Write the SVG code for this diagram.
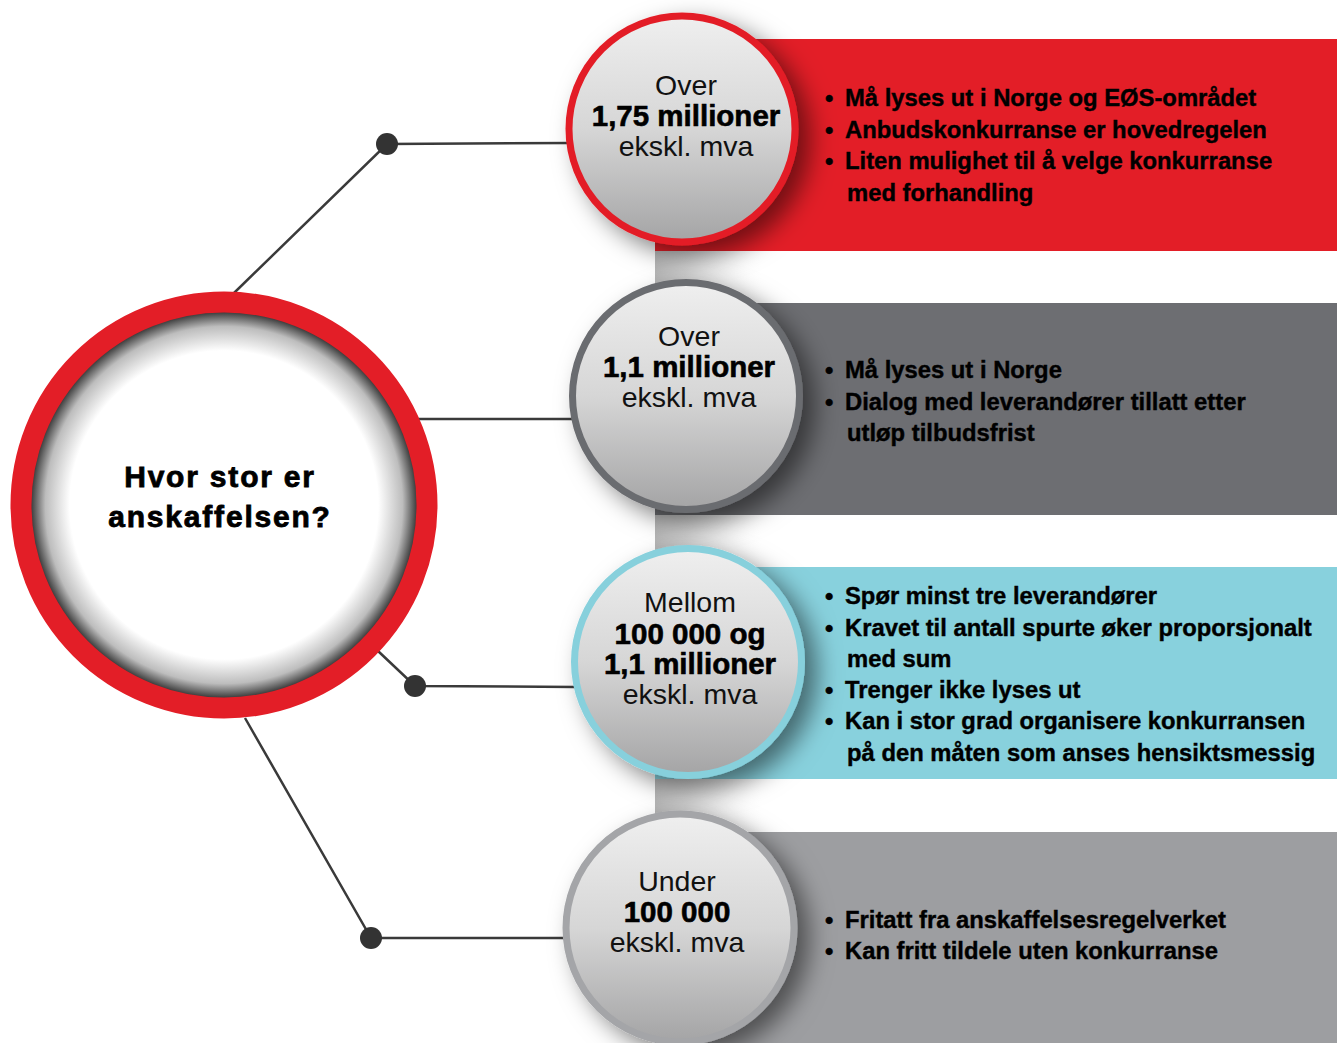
<svg xmlns="http://www.w3.org/2000/svg" width="1337" height="1043" viewBox="0 0 1337 1043">
<style>
.con{stroke:#3a3a3a;stroke-width:2.5;fill:none}
.dot{fill:#333333}
.reg{font-family:"Liberation Sans",Arial,sans-serif;font-size:28.5px;fill:#111;text-anchor:middle}
.bld{font-family:"Liberation Sans",Arial,sans-serif;font-size:29.5px;font-weight:bold;fill:#000;stroke:#000;stroke-width:0.6;text-anchor:middle}
.bul{font-family:"Liberation Sans",Arial,sans-serif;font-size:23.8px;font-weight:bold;fill:#000;stroke:#000;stroke-width:0.4}
.title{font-family:"Liberation Sans",Arial,sans-serif;font-size:30px;font-weight:bold;fill:#000;stroke:#000;stroke-width:0.8;text-anchor:middle;letter-spacing:1.8px}
.ball{fill:url(#ballGrad);filter:url(#shadow)}
</style>
<defs>
<linearGradient id="ballGrad" x1="0" y1="0" x2="0" y2="1">
<stop offset="0" stop-color="#efefef"/>
<stop offset="0.5" stop-color="#d6d6d6"/>
<stop offset="1" stop-color="#a4a4a5"/>
</linearGradient>
<radialGradient id="bigGrad" cx="0.5" cy="0.5" r="0.5">
<stop offset="0" stop-color="#ffffff"/>
<stop offset="0.76" stop-color="#ffffff"/>
<stop offset="0.88" stop-color="#bdbdbd"/>
<stop offset="0.95" stop-color="#3c3c3c"/>
<stop offset="1" stop-color="#141414"/>
</radialGradient>
<linearGradient id="stripGrad" x1="0" y1="0" x2="1" y2="0">
<stop offset="0" stop-color="#b4b4b4"/>
<stop offset="0.3" stop-color="#d4d4d4"/>
<stop offset="1" stop-color="#ffffff" stop-opacity="0"/>
</linearGradient>
<filter id="shadow" x="-30%" y="-30%" width="170%" height="170%">
<feDropShadow dx="12" dy="10" stdDeviation="12" flood-color="#000" flood-opacity="0.5"/>
</filter>
</defs>
<rect width="1337" height="1043" fill="#ffffff"/>
<rect x="655" y="40" width="110" height="1003" fill="url(#stripGrad)"/>
<g id="bands">
<rect id="band1" x="655" y="39" width="682" height="212" fill="#e31e27"/>
<rect id="band2" x="655" y="303" width="682" height="212" fill="#6d6e72"/>
<rect id="band3" x="655" y="567" width="682" height="212" fill="#88d1dd"/>
<rect id="band4" x="655" y="832" width="682" height="211" fill="#9d9ea1"/>
</g>
<g id="connectors">
<polyline class="con" points="234,293 387,144 572,143"/>
<line class="con" x1="418" y1="419" x2="574" y2="419"/>
<polyline class="con" points="378,651 415,686 576,687"/>
<polyline class="con" points="245,718 371,938 565,938"/>
<circle class="dot" cx="387" cy="144" r="11"/>
<circle class="dot" cx="415" cy="686" r="11"/>
<circle class="dot" cx="371" cy="938" r="11"/>
</g>
<g id="center">
<circle cx="224" cy="505" r="203" fill="url(#bigGrad)" stroke="#e31e27" stroke-width="21"/>
<text class="title" x="220" y="487">Hvor stor er</text>
<text class="title" x="220" y="527">anskaffelsen?</text>
</g>
<g id="node1">
<circle class="ball" cx="682" cy="129" r="113" stroke="#e31e27" stroke-width="7"/>
<text class="reg" x="686" y="95">Over</text>
<text class="bld" x="686" y="126">1,75 millioner</text>
<text class="reg" x="686" y="156">ekskl. mva</text>
</g>
<g id="text1">
<text class="bul" x="825" y="106">•</text><text class="bul" x="845" y="106">Må lyses ut i Norge og EØS-området</text>
<text class="bul" x="825" y="138">•</text><text class="bul" x="845" y="138">Anbudskonkurranse er hovedregelen</text>
<text class="bul" x="825" y="169">•</text><text class="bul" x="845" y="169">Liten mulighet til å velge konkurranse</text>
<text class="bul" x="847" y="201">med forhandling</text>
</g>
<g id="node2">
<circle class="ball" cx="686" cy="396" r="113.5" stroke="#6b6c70" stroke-width="7"/>
<text class="reg" x="689" y="346">Over</text>
<text class="bld" x="689" y="377">1,1 millioner</text>
<text class="reg" x="689" y="407">ekskl. mva</text>
</g>
<g id="text2">
<text class="bul" x="825" y="378">•</text><text class="bul" x="845" y="378">Må lyses ut i Norge</text>
<text class="bul" x="825" y="410">•</text><text class="bul" x="845" y="410">Dialog med leverandører tillatt etter</text>
<text class="bul" x="847" y="441">utløp tilbudsfrist</text>
</g>
<g id="node3">
<circle class="ball" cx="688" cy="662" r="113.5" stroke="#87d0dc" stroke-width="7"/>
<text class="reg" x="690" y="612">Mellom</text>
<text class="bld" x="690" y="644">100 000 og</text>
<text class="bld" x="690" y="674">1,1 millioner</text>
<text class="reg" x="690" y="704">ekskl. mva</text>
</g>
<g id="text3">
<text class="bul" x="825" y="604">•</text><text class="bul" x="845" y="604">Spør minst tre leverandører</text>
<text class="bul" x="825" y="636">•</text><text class="bul" x="845" y="636">Kravet til antall spurte øker proporsjonalt</text>
<text class="bul" x="847" y="667">med sum</text>
<text class="bul" x="825" y="698">•</text><text class="bul" x="845" y="698">Trenger ikke lyses ut</text>
<text class="bul" x="825" y="729">•</text><text class="bul" x="845" y="729">Kan i stor grad organisere konkurransen</text>
<text class="bul" x="847" y="761">på den måten som anses hensiktsmessig</text>
</g>
<g id="node4">
<circle class="ball" cx="680" cy="928" r="114" stroke="#a4a5a8" stroke-width="7"/>
<text class="reg" x="677" y="891">Under</text>
<text class="bld" x="677" y="922">100 000</text>
<text class="reg" x="677" y="952">ekskl. mva</text>
</g>
<g id="text4">
<text class="bul" x="825" y="928">•</text><text class="bul" x="845" y="928">Fritatt fra anskaffelsesregelverket</text>
<text class="bul" x="825" y="959">•</text><text class="bul" x="845" y="959">Kan fritt tildele uten konkurranse</text>
</g>
</svg>
